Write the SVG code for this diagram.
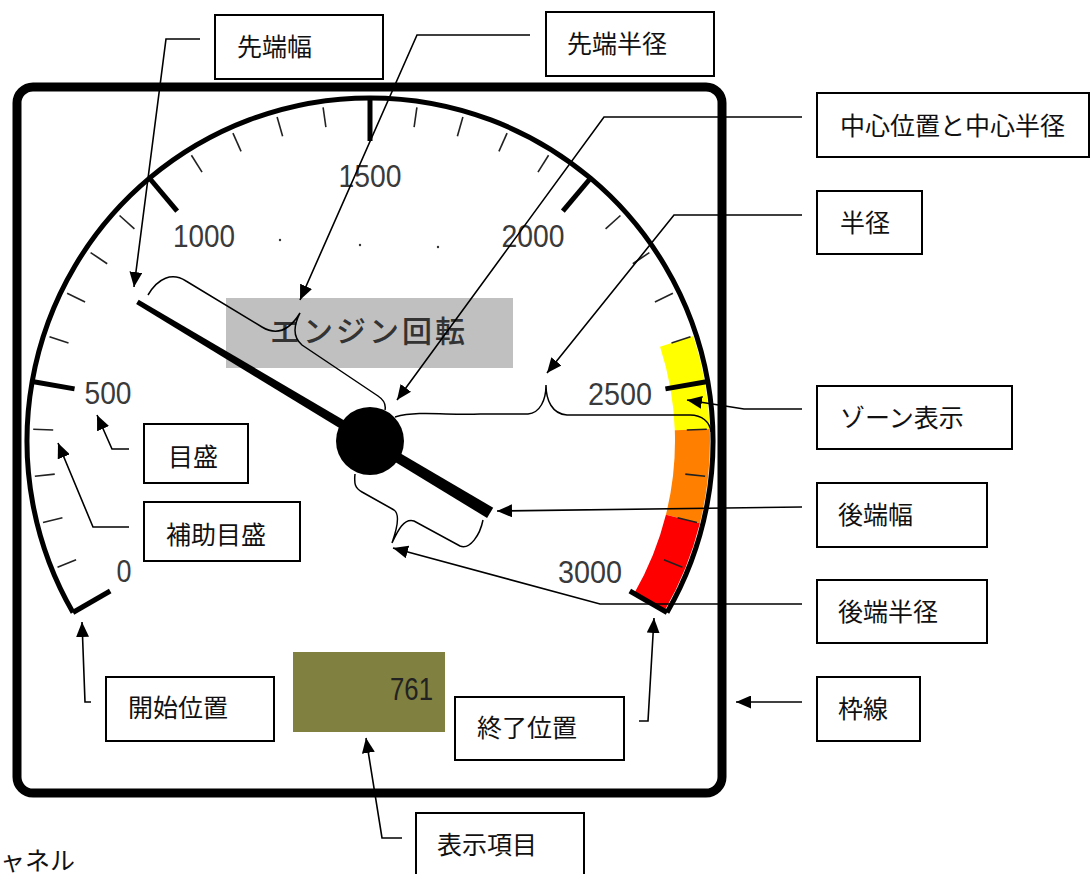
<svg xmlns="http://www.w3.org/2000/svg" width="1091" height="874" viewBox="0 0 1091 874">
<style>
.box{fill:#fff;stroke:#000;stroke-width:2}
.lbl{font-family:"Liberation Serif","Noto Sans CJK JP",serif;font-size:25px;fill:#111}
.num{font-family:"Liberation Sans",Arial,sans-serif;font-size:31px;fill:#3a3a3a;text-anchor:middle}
.mj{stroke:#000;stroke-width:5}
.mn{stroke:#222;stroke-width:1.6}
.con{fill:none;stroke:#000;stroke-width:1.6}
.arr{marker-end:url(#ah)}
.brace{fill:none;stroke:#000;stroke-width:1.5}
.zone{fill:none;stroke-width:35}
</style>
<defs>
<marker id="ah" viewBox="0 0 15 13" refX="15" refY="6.5" markerWidth="15" markerHeight="13" orient="auto" markerUnits="userSpaceOnUse">
<path d="M0,0 L15,6.5 L0,13 z" fill="#000"/>
</marker>
</defs>
<rect x="0" y="0" width="1091" height="874" fill="#fff"/>

<g id="frame">
<rect x="17" y="87" width="705" height="706" rx="16" ry="16" fill="#fff" stroke="#000" stroke-width="9"/>
</g>

<g id="gauge">
<g id="zones">
<path class="zone" stroke="#ffff00" d="M676.7,341.3 A322.5,322.5 0 0 1 692.3,429.7"/>
<path class="zone" stroke="#ff8000" d="M692.3,429.7 A322.5,322.5 0 0 1 682.9,519.0"/>
<path class="zone" stroke="#ff0000" d="M682.9,519.0 A322.5,322.5 0 0 1 649.3,602.3"/>
</g>
<path d="M73,612.5 A343,343 0 1 1 667,612.5" fill="none" stroke="#000" stroke-width="5"/>
<g id="ticks" transform="translate(370,441)">
<g id="minor">
<line class="mn" x1="0" y1="-337" x2="0" y2="-317" transform="rotate(-112)"/>
<line class="mn" x1="0" y1="-337" x2="0" y2="-317" transform="rotate(-104)"/>
<line class="mn" x1="0" y1="-337" x2="0" y2="-317" transform="rotate(-96)"/>
<line class="mn" x1="0" y1="-337" x2="0" y2="-317" transform="rotate(-88)"/>
<line class="mn" x1="0" y1="-337" x2="0" y2="-317" transform="rotate(-72)"/>
<line class="mn" x1="0" y1="-337" x2="0" y2="-317" transform="rotate(-64)"/>
<line class="mn" x1="0" y1="-337" x2="0" y2="-317" transform="rotate(-56)"/>
<line class="mn" x1="0" y1="-337" x2="0" y2="-317" transform="rotate(-48)"/>
<line class="mn" x1="0" y1="-337" x2="0" y2="-317" transform="rotate(-32)"/>
<line class="mn" x1="0" y1="-337" x2="0" y2="-317" transform="rotate(-24)"/>
<line class="mn" x1="0" y1="-337" x2="0" y2="-317" transform="rotate(-16)"/>
<line class="mn" x1="0" y1="-337" x2="0" y2="-317" transform="rotate(-8)"/>
<line class="mn" x1="0" y1="-337" x2="0" y2="-317" transform="rotate(8)"/>
<line class="mn" x1="0" y1="-337" x2="0" y2="-317" transform="rotate(16)"/>
<line class="mn" x1="0" y1="-337" x2="0" y2="-317" transform="rotate(24)"/>
<line class="mn" x1="0" y1="-337" x2="0" y2="-317" transform="rotate(32)"/>
<line class="mn" x1="0" y1="-337" x2="0" y2="-317" transform="rotate(48)"/>
<line class="mn" x1="0" y1="-337" x2="0" y2="-317" transform="rotate(56)"/>
<line class="mn" x1="0" y1="-337" x2="0" y2="-317" transform="rotate(64)"/>
<line class="mn" x1="0" y1="-337" x2="0" y2="-317" transform="rotate(72)"/>
<line class="mn" x1="0" y1="-337" x2="0" y2="-317" transform="rotate(88)"/>
<line class="mn" x1="0" y1="-337" x2="0" y2="-317" transform="rotate(96)"/>
<line class="mn" x1="0" y1="-337" x2="0" y2="-317" transform="rotate(104)"/>
<line class="mn" x1="0" y1="-337" x2="0" y2="-317" transform="rotate(112)"/>
</g>
<g id="major">
<line class="mj" x1="0" y1="-343" x2="0" y2="-300" transform="rotate(-120)"/>
<line class="mj" x1="0" y1="-343" x2="0" y2="-300" transform="rotate(-80)"/>
<line class="mj" x1="0" y1="-343" x2="0" y2="-300" transform="rotate(-40)"/>
<line class="mj" x1="0" y1="-343" x2="0" y2="-300"/>
<line class="mj" x1="0" y1="-343" x2="0" y2="-300" transform="rotate(40)"/>
<line class="mj" x1="0" y1="-343" x2="0" y2="-300" transform="rotate(80)"/>
<line class="mj" x1="0" y1="-343" x2="0" y2="-300" transform="rotate(120)"/>
</g>
</g>
<g id="scale-labels">
<text class="num" x="124" y="582" textLength="15" lengthAdjust="spacingAndGlyphs">0</text>
<text class="num" x="108" y="404" textLength="47" lengthAdjust="spacingAndGlyphs">500</text>
<text class="num" x="204" y="247" textLength="62" lengthAdjust="spacingAndGlyphs">1000</text>
<text class="num" x="370" y="187" textLength="63" lengthAdjust="spacingAndGlyphs">1500</text>
<text class="num" x="533" y="247" textLength="63" lengthAdjust="spacingAndGlyphs">2000</text>
<text class="num" x="620" y="405" textLength="64" lengthAdjust="spacingAndGlyphs">2500</text>
<text class="num" x="590" y="583" textLength="64" lengthAdjust="spacingAndGlyphs">3000</text>
</g>
<g id="dots" fill="#333">
<circle cx="280" cy="240" r="1.2"/>
<circle cx="360" cy="245" r="1.2"/>
<circle cx="438" cy="247" r="1.2"/>
</g>
<g id="title">
<rect x="226" y="298" width="287" height="70" fill="#c0c0c0"/>
<text x="369" y="342" text-anchor="middle" font-family="Noto Sans CJK JP, sans-serif" font-size="30" font-weight="500" letter-spacing="3" fill="#333">エンジン回転</text>
</g>
<g id="display">
<rect x="293" y="652" width="152" height="80" fill="#808040"/>
<text x="433" y="700" text-anchor="end" font-family="Liberation Sans, Arial, sans-serif" font-size="31" fill="#222" textLength="43" lengthAdjust="spacingAndGlyphs">761</text>
</g>
<g id="needle" transform="translate(370,441) rotate(-59.12)">
<polygon points="-2.5,-271 2.5,-271 6,140 -6,140" fill="#000"/>
</g>
<circle id="hub" cx="370" cy="441" r="34" fill="#000"/>
</g>

<g id="braces">
<path class="brace" d="M148,295 C158,278 172,272 186,281 L262,327 C280,338 292,326 300,313 C294,325 292,336 302,345 L378,396 C384,400 386,405 385,410"/>
<path class="brace" d="M395,417 C420,410 450,416 480,414 L528,414 C540,413 546,400 546,385 C546,400 552,414 567,415 L690,415 C702,415 710,422 711,432"/>
<path class="brace" d="M355,474 C354,484 355,488 362,492 L394,510 C400,514 398,526 392,543 C398,530 404,518 414,521 L460,546 C470,550 480,535 483,520"/>
</g>

<g id="connectors">
<path class="con arr" d="M200,39 L166,39 L134,287"/>
<path class="con arr" d="M530,35 L417,35 L300,300"/>
<path class="con arr" d="M802,117 L604,117 L397,400"/>
<path class="con arr" d="M802,215 L674,215 L547,373"/>
<path class="con arr" d="M802,409 L744,409 L687,400"/>
<path class="con arr" d="M802,507 L497,511"/>
<path class="con arr" d="M802,604 L600,604 L393,548"/>
<path class="con arr" d="M802,702 L736,702"/>
<path class="con arr" d="M639,721 L648,721 L654,618"/>
<path class="con arr" d="M91,702 L85,702 L82,622"/>
<path class="con arr" d="M402,838 L382,838 L366,738"/>
<path class="con arr" d="M129,449 L112,449 L97,415"/>
<path class="con arr" d="M129,527 L93,527 L58,443"/>
</g>

<g id="n-sentan-haba"><rect class="box" x="215" y="15" width="168" height="64"/><text class="lbl" x="237" y="56">先端幅</text></g>
<g id="n-sentan-hankei"><rect class="box" x="546" y="12" width="168" height="64"/><text class="lbl" x="567" y="53">先端半径</text></g>
<g id="n-chushin"><rect class="box" x="817" y="93" width="272" height="64"/><text class="lbl" x="840" y="135">中心位置と中心半径</text></g>
<g id="n-hankei"><rect class="box" x="817" y="191" width="105" height="63"/><text class="lbl" x="840" y="232">半径</text></g>
<g id="n-zone"><rect class="box" x="817" y="386" width="195" height="63"/><text class="lbl" x="840" y="427">ゾーン表示</text></g>
<g id="n-koutan-haba"><rect class="box" x="817" y="483" width="170" height="64"/><text class="lbl" x="838" y="524">後端幅</text></g>
<g id="n-koutan-hankei"><rect class="box" x="817" y="580" width="170" height="63"/><text class="lbl" x="838" y="621">後端半径</text></g>
<g id="n-wakusen"><rect class="box" x="817" y="677" width="103" height="64"/><text class="lbl" x="838" y="718">枠線</text></g>
<g id="n-shuryo"><rect class="box" x="455" y="697" width="169" height="63"/><text class="lbl" x="477" y="737">終了位置</text></g>
<g id="n-kaishi"><rect class="box" x="106" y="677" width="168" height="64"/><text class="lbl" x="128" y="717">開始位置</text></g>
<g id="n-hyouji"><rect class="box" x="416" y="813" width="168" height="70"/><text class="lbl" x="437" y="854">表示項目</text></g>
<g id="n-memori"><rect class="box" x="144" y="424" width="104" height="59"/><text class="lbl" x="168" y="466">目盛</text></g>
<g id="n-hojo"><rect class="box" x="144" y="502" width="156" height="59"/><text class="lbl" x="166" y="544">補助目盛</text></g>
<g id="caption"><text class="lbl" x="0" y="870">ャネル</text></g>
</svg>
